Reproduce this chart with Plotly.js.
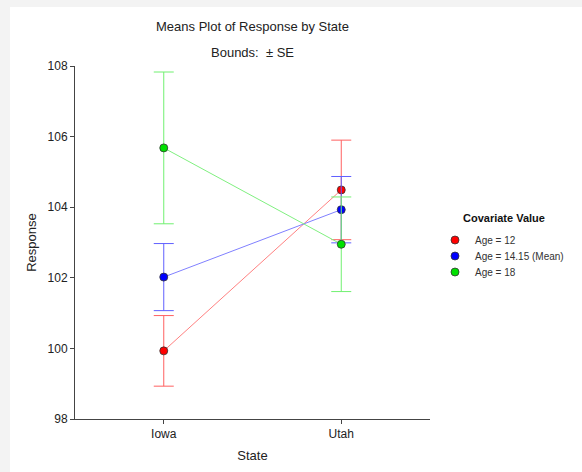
<!DOCTYPE html>
<html><head><meta charset="utf-8">
<script src="https://cdn.plot.ly/plotly-3.0.1.min.js"></script>
<style>
html,body{margin:0;padding:0;background:#f3f3f3;width:582px;height:472px;overflow:hidden}
#chart{position:absolute;left:10px;top:7px;width:572px;height:465px;background:#fff}
</style></head>
<body><div id="chart"></div>
<script>
const states = ["Iowa", "Utah"];
const seriesNames = ["Age = 12", "Age = 14.15 (Mean)", "Age = 18"];
const means12 = [99.93, 104.49];
const se12 = [1.0, 1.41];
const means14 = [102.02, 103.93];
const se14 = [0.95, 0.94];
const means18 = [105.68, 102.95];
const se18 = [2.15, 1.34];

const markerColors = ["#ff0000", "#0000ff", "#00e000"];
const lineColors = ["#ff8080", "#8080ff", "#80f080"];
const errColors = ["#ff6060", "#6060ff", "#70f070"];
const meansAll = [means12, means14, means18];
const seAll = [se12, se14, se18];
const legendIds = ["legend", "legend2", "legend3"];

const font = "Liberation Sans, Arial, sans-serif";
const traces = [];
meansAll.forEach((m, i) => {
  traces.push({
    x: states, y: m, type: "scatter", mode: "lines+markers", showlegend: false,
    line: {color: lineColors[i], width: 1},
    marker: {color: markerColors[i], size: 8, line: {color: "#333", width: 0.8}},
    error_y: {type: "data", array: seAll[i], visible: true, color: errColors[i], thickness: 1, width: 10},
    hoverinfo: "skip"
  });
});
meansAll.forEach((m, i) => {
  traces.push({
    x: [null], y: [null], type: "scatter", mode: "markers", name: seriesNames[i],
    legend: legendIds[i], showlegend: true,
    marker: {color: markerColors[i], size: 8, line: {color: "#333", width: 0.8}}
  });
});

const W = 572, H = 465;
function legendAt(rowY) {
  return {
    xref: "container", yref: "container",
    x: 425 / W, xanchor: "left", y: 1 - rowY / H, yanchor: "middle",
    bgcolor: "rgba(0,0,0,0)",
    font: {size: 10, family: font, color: "#333"}
  };
}

const layout = {
  width: W, height: H,
  margin: {l: 65, r: 152, t: 59, b: 53},
  paper_bgcolor: "#fff", plot_bgcolor: "#fff",
  font: {family: font, color: "#222"},
  showlegend: true,
  xaxis: {
    type: "category", range: [-0.5, 1.5], showgrid: false, zeroline: false, automargin: false,
    showline: true, linecolor: "#444", linewidth: 1,
    ticks: "outside", ticklen: 4, tickcolor: "#444",
    tickfont: {size: 12, family: font, color: "#222"},
    title: {text: "State", font: {size: 13, family: font, color: "#222"}, standoff: 10}
  },
  yaxis: {
    range: [98, 108], dtick: 2, tick0: 98, showgrid: false, zeroline: false, automargin: false,
    showline: true, linecolor: "#444", linewidth: 1,
    ticks: "outside", ticklen: 4, tickcolor: "#444",
    tickfont: {size: 12, family: font, color: "#222"},
    title: {text: "Response", font: {size: 13, family: font, color: "#222"}, standoff: 8}
  },
  legend: legendAt(233),
  legend2: legendAt(249),
  legend3: legendAt(265),
  annotations: [
    {text: "Means Plot of Response by State", xref: "paper", yref: "paper", x: 0.5, y: 1, yshift: 40,
     showarrow: false, font: {size: 13, family: font, color: "#222"}, xanchor: "center", yanchor: "middle"},
    {text: "Bounds:  ± SE", xref: "paper", yref: "paper", x: 0.5, y: 1, yshift: 14,
     showarrow: false, font: {size: 13, family: font, color: "#222"}, xanchor: "center", yanchor: "middle"},
    {text: "<b>Covariate Value</b>", xref: "paper", yref: "paper", x: (451 - 65) / 355, y: (412 - 211) / 353,
     showarrow: false, font: {size: 11, family: font, color: "#111"}, xanchor: "left", yanchor: "middle"}
  ]
};
Plotly.newPlot("chart", traces, layout, {displayModeBar: false, staticPlot: true});
</script></body></html>
